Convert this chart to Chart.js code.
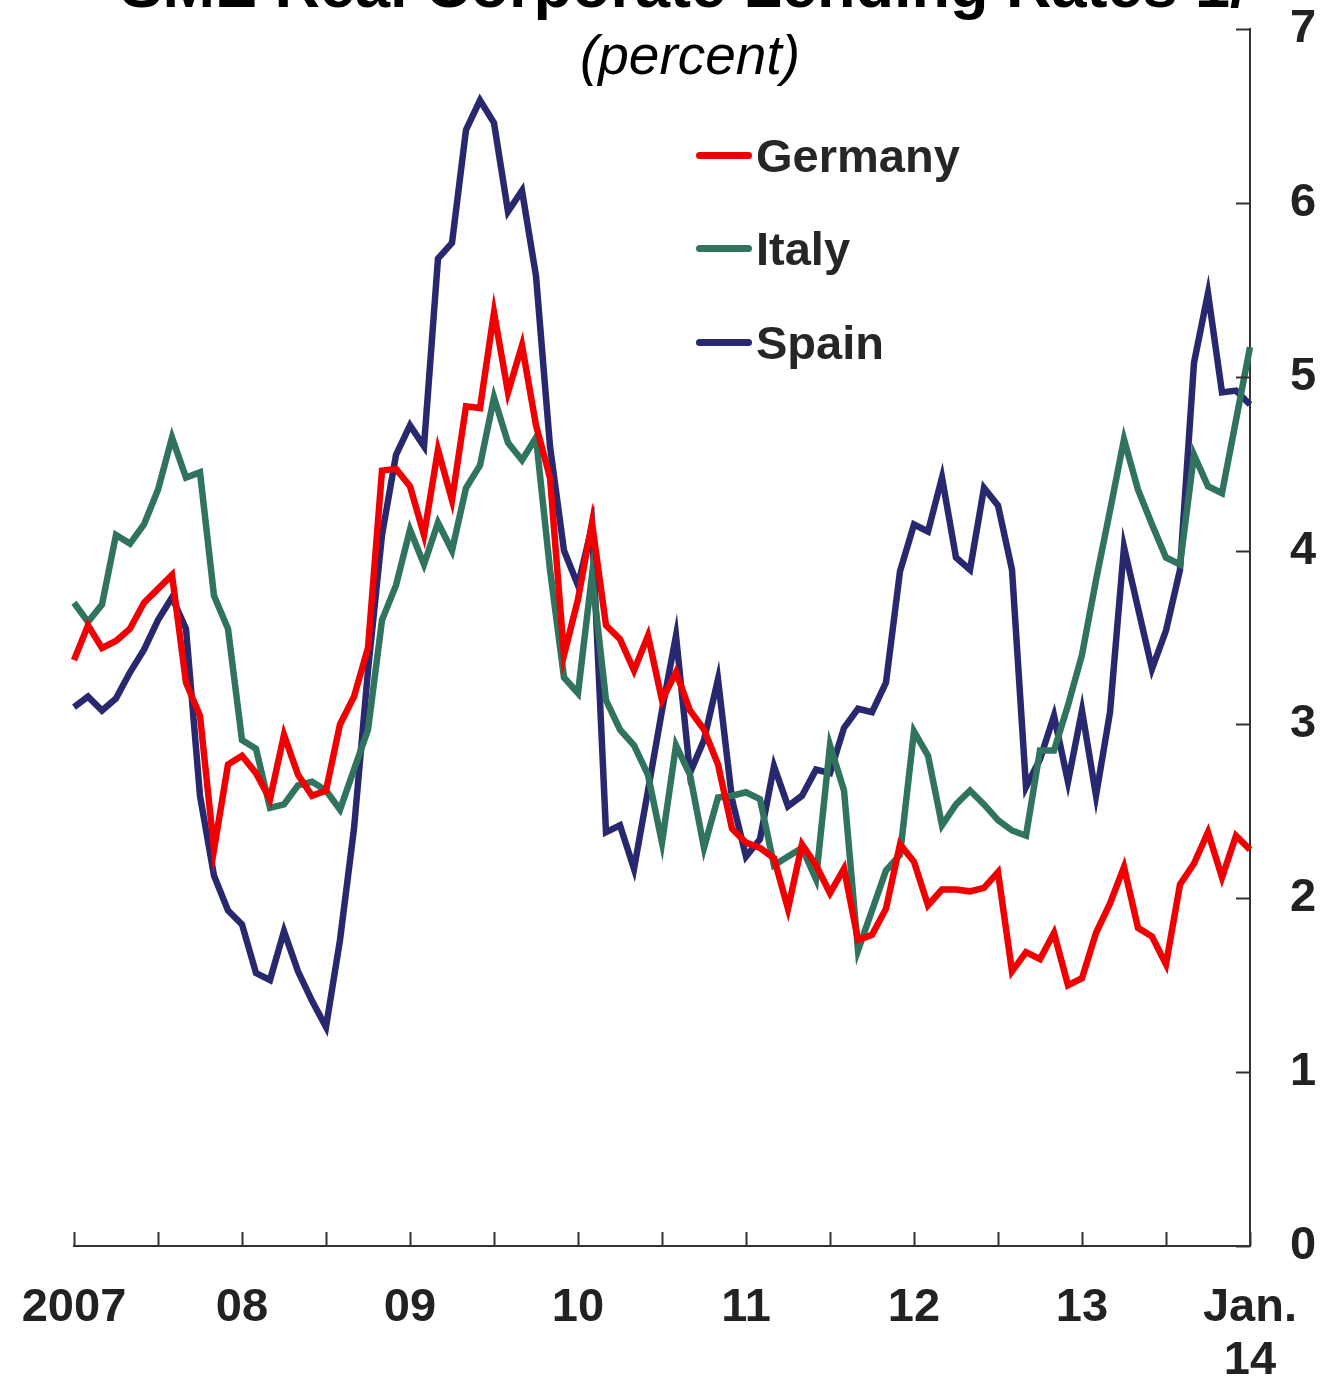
<!DOCTYPE html>
<html lang="en">
<head>
  <meta charset="UTF-8">
  <title>SME Real Corporate Lending Rates</title>
  <script src="https://cdn.jsdelivr.net/npm/chart.js"></script>
  <style>
    html, body { margin: 0; padding: 0; background: #fff; }
    body { font-family: Arial, 'Liberation Sans', sans-serif; color: #222; }
    #wrap { position: relative; width: 1334px; height: 1376px; overflow: hidden; }
    #wrap canvas { position: absolute; left: 0; top: 0; }
    .title { position: absolute; left: 0; width: 1368px; text-align: center; white-space: nowrap; line-height: 1; }
    #mainTitle { top: -46px; font-size: 63px; font-weight: bold; color: #000; }
    #subTitle { top: 28px; left: 6px; width: 1368px; font-size: 55px; font-style: italic; color: #000; }
    #legend { position: absolute; left: 696px; top: 0; }
    .row { position: absolute; left: 0; height: 60px; display: flex; align-items: center; white-space: nowrap; }
    .swatch { width: 56px; height: 7px; border-radius: 4px; }
    .lbl { font-size: 47px; font-weight: bold; line-height: 1; margin-left: 4px; color: #262626; }
  </style>
</head>
<body>
<div id="wrap">
  <canvas id="grafica" width="1334" height="1376"></canvas>
  <div id="mainTitle" class="title">SME Real Corporate Lending Rates 1/</div>
  <div id="subTitle" class="title">(percent)</div>
  <div id="legend"></div>
</div>

<script>
// monthly, Jan 2007 .. Jan 2014
const months = [];
for (let y = 2007; y <= 2014; y++) {
  for (let m = 1; m <= 12; m++) {
    if (y === 2014 && m > 1) break;
    months.push(y + "-" + String(m).padStart(2, "0"));
  }
}
const yearLabels = ["2007", "08", "09", "10", "11", "12", "13", ["Jan.", "14"]];
const yTicks = [0, 1, 2, 3, 4, 5, 6, 7];

const germany = [
  3.37, 3.57, 3.44, 3.48, 3.55, 3.70, 3.78, 3.86, 3.24, 3.05, 2.28, 2.77,
  2.82, 2.72, 2.57, 2.94, 2.71, 2.59, 2.62, 3.00, 3.16, 3.44, 4.46, 4.47,
  4.37, 4.09, 4.58, 4.29, 4.83, 4.82, 5.37, 4.91, 5.18, 4.72, 4.42, 3.40,
  3.72, 4.16, 3.57, 3.49, 3.31, 3.51, 3.14, 3.30, 3.08, 2.97, 2.77, 2.40,
  2.32, 2.29, 2.23, 1.94, 2.31, 2.19, 2.03, 2.17, 1.76, 1.79, 1.94, 2.31,
  2.21, 1.96, 2.05, 2.05, 2.04, 2.06, 2.15, 1.58, 1.69, 1.65, 1.80, 1.50,
  1.54, 1.80, 1.97, 2.18, 1.83, 1.78, 1.62, 2.08, 2.20, 2.38, 2.12, 2.36,
  2.28
];
const italy = [
  3.70, 3.59, 3.69, 4.09, 4.04, 4.15, 4.35, 4.65, 4.42, 4.45, 3.74, 3.55,
  2.91, 2.86, 2.52, 2.54, 2.65, 2.67, 2.62, 2.51, 2.74, 2.97, 3.60, 3.80,
  4.12, 3.92, 4.16, 4.00, 4.36, 4.49, 4.88, 4.62, 4.52, 4.65, 3.89, 3.27,
  3.18, 3.86, 3.14, 2.97, 2.88, 2.71, 2.32, 2.88, 2.71, 2.29, 2.58, 2.59,
  2.61, 2.57, 2.19, 2.24, 2.29, 2.11, 2.88, 2.62, 1.70, 1.93, 2.16, 2.25,
  2.96, 2.82, 2.42, 2.54, 2.62, 2.54, 2.45, 2.39, 2.36, 2.85, 2.85, 3.11,
  3.40, 3.83, 4.23, 4.64, 4.35, 4.15, 3.96, 3.92, 4.55, 4.37, 4.33, 4.75,
  5.17
];
const spain = [
  3.10, 3.16, 3.08, 3.15, 3.30, 3.43, 3.60, 3.73, 3.55, 2.59, 2.13, 1.93,
  1.85, 1.57, 1.53, 1.81, 1.58, 1.41, 1.26, 1.76, 2.40, 3.31, 4.09, 4.55,
  4.72, 4.60, 5.68, 5.77, 6.42, 6.59, 6.46, 5.95, 6.07, 5.58, 4.60, 4.00,
  3.80, 4.14, 2.38, 2.42, 2.17, 2.62, 3.08, 3.51, 2.72, 2.91, 3.26, 2.57,
  2.24, 2.34, 2.76, 2.53, 2.59, 2.74, 2.72, 2.98, 3.09, 3.07, 3.24, 3.88,
  4.15, 4.11, 4.42, 3.96, 3.89, 4.36, 4.26, 3.89, 2.64, 2.80, 3.05, 2.67,
  3.08, 2.59, 3.07, 4.02, 3.67, 3.32, 3.54, 3.89, 5.08, 5.48, 4.91, 4.92,
  4.84
];

const series = [
  { label: "Germany", data: germany, color: "#f00000" },
  { label: "Italy", data: italy, color: "#30735f" },
  { label: "Spain", data: spain, color: "#28286f" }
];
const legendRowsY = [155, 248, 342];

// legend
const leg = document.getElementById("legend");
series.forEach((s, i) => {
  leg.innerHTML += `<div class="row" style="top:${legendRowsY[i] - 30}px">
    <span class="swatch" style="background:${s.color}"></span><span class="lbl">${s.label}</span></div>`;
});

// inward tick marks on both axes
const innerTicks = {
  id: "innerTicks",
  afterDraw(chart) {
    const ctx = chart.ctx, x = chart.scales.x, y = chart.scales.y;
    const area = chart.chartArea;
    ctx.save();
    ctx.strokeStyle = "#333";
    ctx.lineWidth = 2;
    ctx.beginPath();
    months.forEach((m, i) => {
      if (i % 6 !== 0) return;
      const px = Math.round(x.getPixelForValue(i)) + 0.5;
      ctx.moveTo(px, area.bottom);
      ctx.lineTo(px, area.bottom - 14);
    });
    yTicks.forEach(v => {
      const py = Math.round(y.getPixelForValue(v)) + 0.5;
      ctx.moveTo(area.right, py);
      ctx.lineTo(area.right - 14, py);
    });
    ctx.stroke();
    ctx.restore();
  }
};

function noOverflow(s) {
  s.paddingTop = 0; s.paddingBottom = 0; s.paddingLeft = 0; s.paddingRight = 0;
}

const tickFont = { family: "Arial, 'Liberation Sans', sans-serif", size: 47, weight: "bold", lineHeight: 1.12 };

new Chart(document.getElementById("grafica").getContext("2d"), {
  type: "line",
  data: {
    labels: months,
    datasets: series.map(s => ({
      label: s.label, data: s.data, borderColor: s.color, backgroundColor: s.color,
      borderWidth: 6.5, pointRadius: 0, tension: 0, fill: false,
      borderJoinStyle: "miter", borderCapStyle: "butt"
    }))
  },
  options: {
    responsive: false,
    animation: false,
    layout: { padding: { left: 74, top: 29, right: 0, bottom: 0 } },
    plugins: { legend: { display: false }, tooltip: { enabled: false } },
    scales: {
      x: {
        type: "category",
        offset: false,
        grid: { display: false, drawTicks: false },
        border: { display: true, color: "#333", width: 2 },
        ticks: {
          autoSkip: false, maxRotation: 0, minRotation: 0, padding: 36,
          color: "#222", font: tickFont,
          callback: (v, i) => (i % 12 === 0 ? yearLabels[i / 12] : "")
        },
        afterFit: s => { s.height = 130; noOverflow(s); }
      },
      y: {
        position: "right",
        min: 0, max: 7,
        grid: { display: false, drawTicks: false },
        border: { display: true, color: "#333", width: 2 },
        ticks: { stepSize: 1, padding: 40, color: "#222", font: tickFont },
        afterFit: s => { s.width = 84; noOverflow(s); }
      }
    }
  },
  plugins: [innerTicks]
});
</script>
</body>
</html>
